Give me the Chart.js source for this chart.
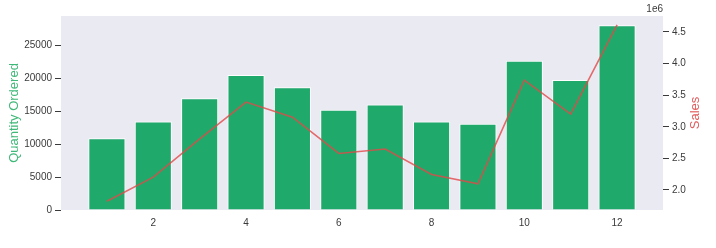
<!DOCTYPE html>
<html>
<head>
<meta charset="utf-8">
<script src="https://cdn.jsdelivr.net/npm/chart.js@4.4.1/dist/chart.umd.min.js"></script>
<style>
    body { margin: 0; background: #ffffff; }
    #wrap { width: 716px; height: 248px; }
</style>
</head>
<body>
<div id="wrap"><canvas id="sales" width="716" height="248"></canvas></div>
<script>
const months = [1, 2, 3, 4, 5, 6, 7, 8, 9, 10, 11, 12];
const quantityOrdered = [10903, 13449, 17005, 20558, 18667, 15253, 16072, 13448, 13109, 22703, 19798, 28114];
const sales = [1822256.73, 2202022.42, 2807100.38, 3390670.24, 3152606.75, 2577802.26,
               2647775.76, 2244467.88, 2097560.13, 3736726.88, 3199603.20, 4613443.34];
const monthTicks = [2, 4, 6, 8, 10, 12];
const quantityTicks = [0, 5000, 10000, 15000, 20000, 25000];
const salesTicks = [2.0e6, 2.5e6, 3.0e6, 3.5e6, 4.0e6, 4.5e6];

const font = "'Liberation Sans', Arial, sans-serif";
const tickColor = "#3a3a3a";

// matplotlib style margins
const salesMin = Math.min(...sales), salesMax = Math.max(...sales);
const salesPad = (salesMax - salesMin) * 0.05;

const decor = {
    id: "decor",
    beforeDraw(chart) {
        const { ctx, chartArea: a } = chart;
        ctx.save();
        ctx.fillStyle = "#eaeaf2";
        ctx.fillRect(a.left, a.top, a.right - a.left, a.bottom - a.top);
        ctx.restore();
    },
    afterDraw(chart) {
        const { ctx, chartArea: a } = chart;
        const midY = (a.top + a.bottom) / 2;
        ctx.save();
        ctx.textAlign = "center";
        ctx.textBaseline = "middle";
        ctx.font = "13px " + font;

        ctx.save();
        ctx.translate(14, midY);
        ctx.rotate(-Math.PI / 2);
        ctx.fillStyle = "#3fb879";
        ctx.fillText("Quantity Ordered", 0, 0);
        ctx.restore();

        ctx.save();
        ctx.translate(695, midY);
        ctx.rotate(-Math.PI / 2);
        ctx.fillStyle = "#e05c5c";
        ctx.fillText("Sales", 0, 0);
        ctx.restore();

        ctx.font = "10px " + font;
        ctx.fillStyle = tickColor;
        ctx.textAlign = "right";
        ctx.fillText("1e6", a.right, 9);
        ctx.restore();
    }
};

new Chart(document.getElementById("sales"), {
    type: "bar",
    data: {
        datasets: [{
            type: "line",
            data: months.map((m, i) => ({ x: m, y: sales[i] })),
            yAxisID: "ySales",
            borderColor: "rgba(226, 72, 72, 0.8)",
            borderWidth: 1.6,
            pointRadius: 0,
            tension: 0,
            order: 0
        }, {
            type: "bar",
            data: months.map((m, i) => ({ x: m, y: quantityOrdered[i] })),
            yAxisID: "yQty",
            backgroundColor: "#1faa6c",
            borderColor: "#ffffff",
            borderWidth: 1,
            barPercentage: 0.8,
            categoryPercentage: 1.0,
            order: 1
        }]
    },
    options: {
        responsive: false,
        animation: false,
        layout: { padding: { top: 16 } },
        plugins: { legend: { display: false }, tooltip: { enabled: false } },
        scales: {
            x: {
                type: "linear",
                offset: false,
                min: 0.01,
                max: 12.99,
                afterBuildTicks: s => { s.ticks = monthTicks.map(v => ({ value: v })); },
                afterFit: s => { s.height = 38; },
                grid: { display: false, drawTicks: false, offset: false },
                border: { display: false },
                ticks: { color: tickColor, font: { family: font, size: 10 }, padding: 7, maxRotation: 0,
                         callback: v => String(v) }
            },
            yQty: {
                position: "left",
                min: 0,
                max: Math.max(...quantityOrdered) * 1.05,
                afterBuildTicks: s => { s.ticks = quantityTicks.map(v => ({ value: v })); },
                afterFit: s => { s.width = 61; },
                grid: { display: true, drawOnChartArea: false, drawTicks: true, tickLength: 6, tickColor: tickColor },
                border: { display: false },
                ticks: { color: tickColor, font: { family: font, size: 10 }, padding: 3,
                         callback: v => String(v) }
            },
            ySales: {
                position: "right",
                min: salesMin - salesPad,
                max: salesMax + salesPad,
                afterBuildTicks: s => { s.ticks = salesTicks.map(v => ({ value: v })); },
                afterFit: s => { s.width = 53; },
                grid: { display: true, drawOnChartArea: false, drawTicks: true, tickLength: 6, tickColor: tickColor },
                border: { display: false },
                ticks: {
                    color: tickColor, font: { family: font, size: 10 }, padding: 3,
                    callback: v => (v / 1e6).toFixed(1)
                }
            }
        }
    },
    plugins: [decor]
});
</script>
</body>
</html>
